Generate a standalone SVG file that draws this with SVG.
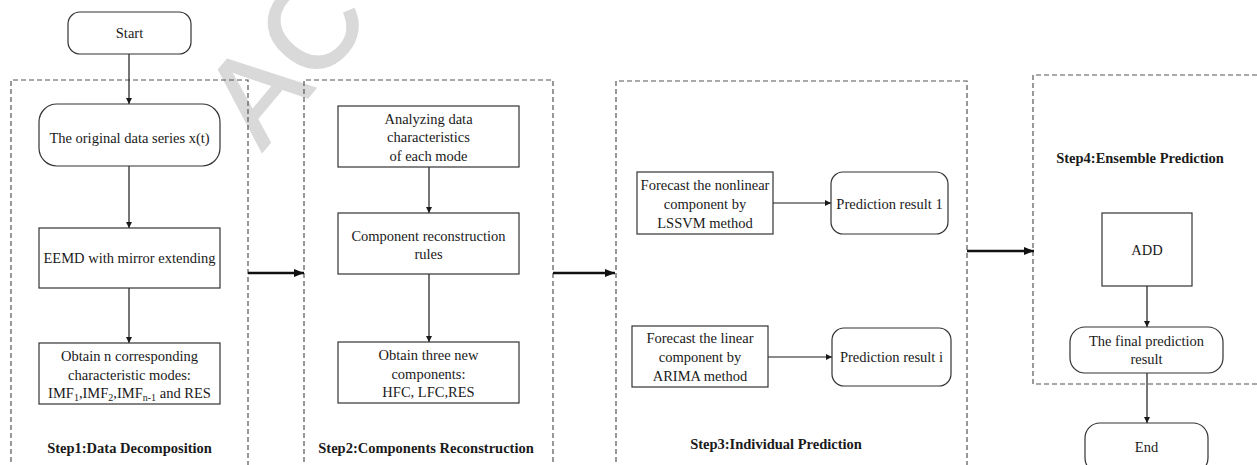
<svg xmlns="http://www.w3.org/2000/svg" width="1257" height="465" viewBox="0 0 1257 465">
<style>
.t{font-family:"Liberation Serif","Times New Roman",serif;font-size:14.5px;fill:#1a1a1a;text-anchor:middle}
.b{font-weight:bold}
.box{fill:#fff;stroke:#333;stroke-width:1.2}
.grp{fill:none;stroke:#555;stroke-width:1.2;stroke-dasharray:5,3}
.ln{fill:none;stroke:#1a1a1a;stroke-width:1.2}
.thick{fill:none;stroke:#111;stroke-width:2.4}
.wm{font-family:"Liberation Sans",Arial,sans-serif;font-size:125px;fill:#d9d9d9;stroke:#d9d9d9;stroke-width:2}
</style>
<defs>
<marker id="a" viewBox="0 0 10 10" refX="10" refY="5" markerWidth="6" markerHeight="6" markerUnits="userSpaceOnUse" orient="auto"><path d="M0,0 L10,5 L0,10 z" fill="#1a1a1a"/></marker>
<marker id="A" viewBox="0 0 10 10" refX="10" refY="5" markerWidth="10" markerHeight="10" markerUnits="userSpaceOnUse" orient="auto"><path d="M0,1 L10,5 L0,9 z" fill="#111"/></marker>
</defs>
<rect width="1257" height="465" fill="#fff"/>
<text class="wm" transform="translate(262,152) rotate(-50)">ACC</text>

<g id="groups">
<path class="grp" d="M11,470 V80 H248 V470"/>
<path class="grp" d="M304,470 V80 H553 V470"/>
<path class="grp" d="M616,470 V81 H967 V470"/>
<path class="grp" d="M1265,75 H1033 V384 H1265"/>
</g>

<g id="connectors">
<line class="ln" x1="129" y1="54" x2="129" y2="104" marker-end="url(#a)"/>
<line class="ln" x1="129" y1="166" x2="129" y2="228" marker-end="url(#a)"/>
<line class="ln" x1="129" y1="288" x2="129" y2="343" marker-end="url(#a)"/>
<line class="ln" x1="429" y1="167" x2="429" y2="213" marker-end="url(#a)"/>
<line class="ln" x1="429" y1="274" x2="429" y2="342" marker-end="url(#a)"/>
<line class="ln" x1="773" y1="203" x2="831" y2="203" marker-end="url(#a)"/>
<line class="ln" x1="768" y1="357" x2="832" y2="357" marker-end="url(#a)"/>
<line class="ln" x1="1147" y1="286" x2="1147" y2="327" marker-end="url(#a)"/>
<line class="ln" x1="1147" y1="373" x2="1147" y2="423" marker-end="url(#a)"/>
<line class="thick" x1="248" y1="273" x2="304" y2="273" marker-end="url(#A)"/>
<line class="thick" x1="553" y1="273" x2="615" y2="273" marker-end="url(#A)"/>
<line class="thick" x1="967" y1="251" x2="1034" y2="251" marker-end="url(#A)"/>
</g>

<g id="start"><rect class="box" x="68" y="12" width="123" height="42" rx="12"/><text class="t" x="129.5" y="38">Start</text></g>
<g id="original"><rect class="box" x="39" y="104" width="181" height="62" rx="18"/><text class="t" x="129.5" y="143">The original data series x(t)</text></g>
<g id="eemd"><rect class="box" x="39" y="228" width="181" height="60"/><text class="t" x="129.5" y="263">EEMD with mirror extending</text></g>
<g id="obtain-n"><rect class="box" x="39" y="343" width="181" height="61"/>
<text class="t" x="129.5" y="361">Obtain n corresponding</text>
<text class="t" x="129.5" y="379.5">characteristic modes:</text>
<text class="t" x="129.5" y="398">IMF<tspan font-size="10" dy="3">1</tspan><tspan dy="-3">,IMF</tspan><tspan font-size="10" dy="3">2</tspan><tspan dy="-3">,IMF</tspan><tspan font-size="10" dy="3">n-1</tspan><tspan dy="-3"> and RES</tspan></text></g>
<g id="step1"><text class="t b" x="129.5" y="453">Step1:Data Decomposition</text></g>

<g id="analyzing"><rect class="box" x="338" y="106" width="181" height="61"/>
<text class="t" x="428.5" y="124">Analyzing data</text>
<text class="t" x="428.5" y="142">characteristics</text>
<text class="t" x="428.5" y="160.5">of each mode</text></g>
<g id="rules"><rect class="box" x="338" y="213" width="181" height="61"/>
<text class="t" x="428.5" y="241">Component reconstruction</text>
<text class="t" x="428.5" y="259">rules</text></g>
<g id="obtain-three"><rect class="box" x="338" y="342" width="181" height="61"/>
<text class="t" x="428.5" y="360">Obtain three new</text>
<text class="t" x="428.5" y="379">components:</text>
<text class="t" x="428.5" y="397">HFC, LFC,RES</text></g>
<g id="step2"><text class="t b" x="426" y="453">Step2:Components Reconstruction</text></g>

<g id="lssvm"><rect class="box" x="637" y="172" width="136" height="62"/>
<text class="t" x="705" y="190">Forecast the nonlinear</text>
<text class="t" x="705" y="209">component by</text>
<text class="t" x="705" y="228">LSSVM method</text></g>
<g id="result1"><rect class="box" x="831" y="172" width="117" height="62" rx="12"/><text class="t" x="889.5" y="209">Prediction result 1</text></g>
<g id="arima"><rect class="box" x="632" y="326" width="136" height="61"/>
<text class="t" x="700" y="343">Forecast the linear</text>
<text class="t" x="700" y="362">component by</text>
<text class="t" x="700" y="381">ARIMA method</text></g>
<g id="resulti"><rect class="box" x="832" y="328" width="119" height="58" rx="12"/><text class="t" x="891.5" y="362">Prediction result i</text></g>
<g id="step3"><text class="t b" x="776" y="449">Step3:Individual Prediction</text></g>

<g id="step4"><text class="t b" x="1140" y="163">Step4:Ensemble Prediction</text></g>
<g id="add"><rect class="box" x="1102" y="213" width="90" height="73"/><text class="t" x="1147" y="255">ADD</text></g>
<g id="final"><rect class="box" x="1070" y="327" width="153" height="46" rx="15"/>
<text class="t" x="1146.5" y="346">The final prediction</text>
<text class="t" x="1146.5" y="364">result</text></g>
<g id="end"><rect class="box" x="1085" y="423" width="123" height="50" rx="15"/><text class="t" x="1146.5" y="452">End</text></g>
</svg>
